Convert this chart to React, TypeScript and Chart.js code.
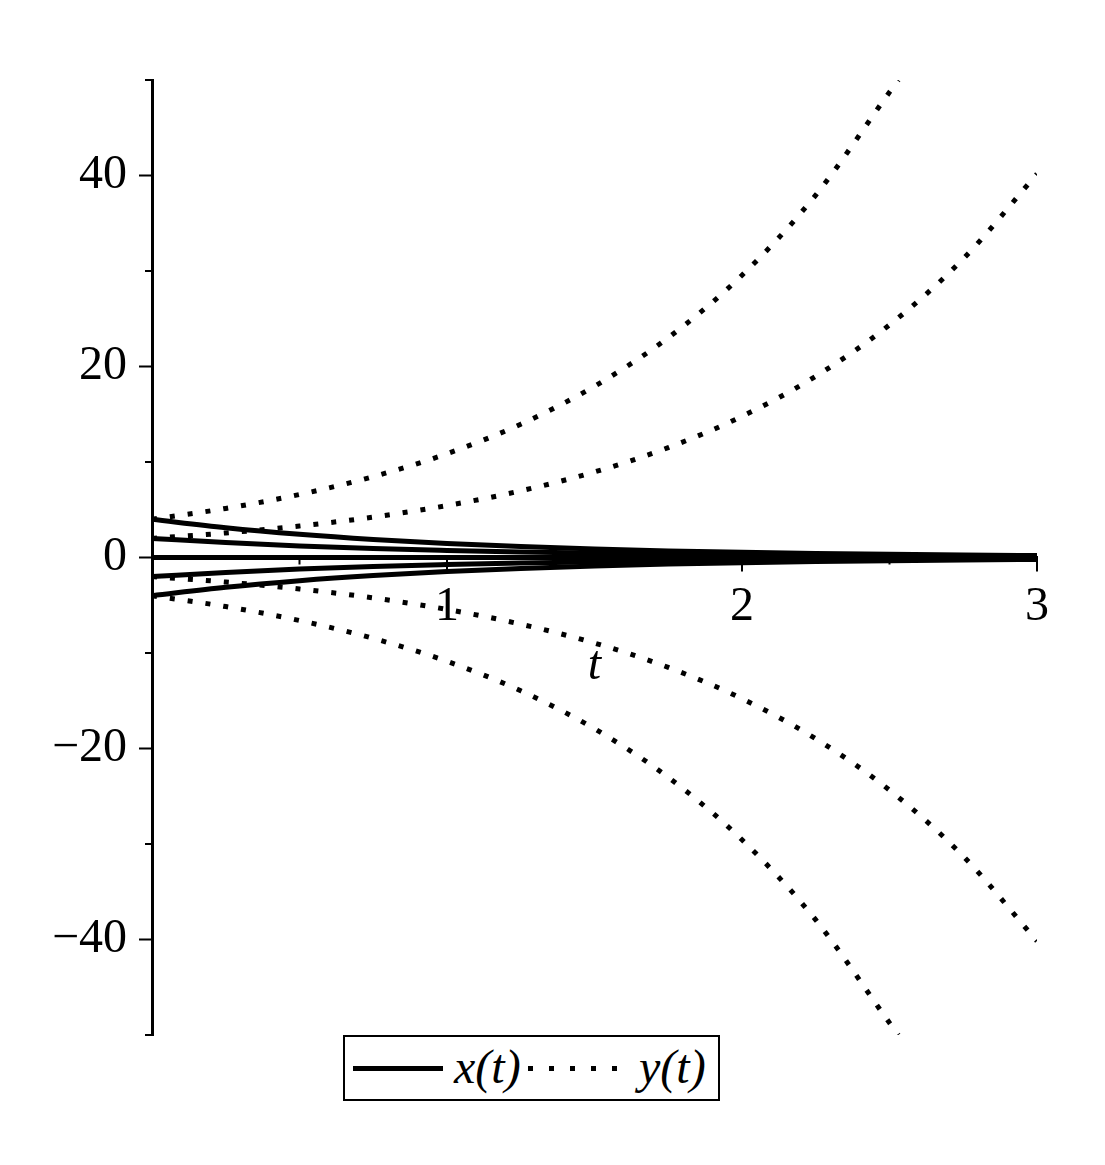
import React, { useEffect, useRef } from 'react';
import { Chart, registerables } from 'chart.js';

Chart.register(...registerables);

// sample times (t) read along the horizontal axis
const tValues = [0, 0.25, 0.5, 0.75, 1, 1.25, 1.5, 1.75, 2, 2.25, 2.5, 2.75, 3];
// the two outer dotted curves leave the view at the top/bottom edge
const tOuter = [0, 0.25, 0.5, 0.75, 1, 1.25, 1.5, 1.75, 2, 2.25, 2.5, 2.53];

// x(t) solid curves
const xStart4 = [4, 3.12, 2.43, 1.89, 1.47, 1.15, 0.89, 0.69, 0.54, 0.42, 0.33, 0.26, 0.2];
const xStart2 = [2, 1.56, 1.21, 0.94, 0.74, 0.57, 0.45, 0.35, 0.27, 0.21, 0.16, 0.13, 0.1];
const xStart0 = [0, 0, 0, 0, 0, 0, 0, 0, 0, 0, 0, 0, 0];
const xStartM2 = [-2, -1.56, -1.21, -0.94, -0.74, -0.57, -0.45, -0.35, -0.27, -0.21, -0.16, -0.13, -0.1];
const xStartM4 = [-4, -3.12, -2.43, -1.89, -1.47, -1.15, -0.89, -0.69, -0.54, -0.42, -0.33, -0.26, -0.2];

// y(t) dotted curves
const yStart4 = [4, 5.14, 6.6, 8.47, 10.87, 13.96, 17.93, 23.02, 29.56, 37.95, 48.73, 50];
const yStart2 = [2, 2.57, 3.3, 4.23, 5.44, 6.98, 8.96, 11.51, 14.78, 18.98, 24.36, 31.28, 40.17];
const yStart0 = [0, 0, 0, 0, 0, 0, 0, 0, 0, 0, 0, 0, 0];
const yStartM2 = [-2, -2.57, -3.3, -4.23, -5.44, -6.98, -8.96, -11.51, -14.78, -18.98, -24.36, -31.28, -40.17];
const yStartM4 = [-4, -5.14, -6.6, -8.47, -10.87, -13.96, -17.93, -23.02, -29.56, -37.95, -48.73, -50];

// ticks
const yMajorTicks = [-40, -20, 0, 20, 40];
const yMinorTicks = [-50, -30, -10, 10, 30, 50];
const xMajorTicks = [1, 2, 3];
const xMinorTicks = [0.5, 1.5, 2.5];

const FONT = "'Liberation Serif', 'Times New Roman', serif";
const FONT_SIZE = 48;

const toPoints = (ts: number[], vs: number[]) => ts.map((t, i) => ({ x: t, y: vs[i] }));

const tickPlugin = {
  id: 'mapleTicks',
  afterDraw(chart: any) {
    const ctx = chart.ctx;
    const xs = chart.scales.x;
    const ys = chart.scales.y;
    const left = chart.chartArea.left;
    const y0 = ys.getPixelForValue(0);
    ctx.save();
    ctx.strokeStyle = '#000';
    ctx.lineWidth = 2;
    ctx.beginPath();
    yMajorTicks.forEach((v) => {
      const p = ys.getPixelForValue(v);
      ctx.moveTo(left - 13, p);
      ctx.lineTo(left, p);
    });
    yMinorTicks.forEach((v) => {
      const p = ys.getPixelForValue(v);
      ctx.moveTo(left - 7, p);
      ctx.lineTo(left, p);
    });
    xMajorTicks.forEach((v) => {
      const p = xs.getPixelForValue(v);
      ctx.moveTo(p, y0);
      ctx.lineTo(p, y0 + 14);
    });
    xMinorTicks.forEach((v) => {
      const p = xs.getPixelForValue(v);
      ctx.moveTo(p, y0);
      ctx.lineTo(p, y0 + 7);
    });
    ctx.stroke();
    ctx.restore();
  },
};

export default function App() {
  const canvasRef = useRef<HTMLCanvasElement | null>(null);

  useEffect(() => {
    if (!canvasRef.current) return;
    const solid = (data: number[]) => ({
      data: toPoints(tValues, data),
      borderColor: '#000',
      borderWidth: 5,
      pointRadius: 0,
      fill: false,
      cubicInterpolationMode: 'monotone' as const,
    });
    const dotted = (ts: number[], data: number[]) => ({
      data: toPoints(ts, data),
      borderColor: '#000',
      borderWidth: 5,
      borderDash: [5, 13],
      borderCapStyle: 'butt' as const,
      pointRadius: 0,
      fill: false,
      cubicInterpolationMode: 'monotone' as const,
    });
    const chart = new Chart(canvasRef.current, {
      type: 'line',
      data: {
        datasets: [
          { label: 'y(t)', ...dotted(tOuter, yStart4) },
          { label: 'y(t)', ...dotted(tValues, yStart2) },
          { label: 'y(t)', ...dotted(tValues, yStart0) },
          { label: 'y(t)', ...dotted(tValues, yStartM2) },
          { label: 'y(t)', ...dotted(tOuter, yStartM4) },
          { label: 'x(t)', ...solid(xStart4) },
          { label: 'x(t)', ...solid(xStart2) },
          { label: 'x(t)', ...solid(xStart0) },
          { label: 'x(t)', ...solid(xStartM2) },
          { label: 'x(t)', ...solid(xStartM4) },
        ] as any,
      },
      options: {
        animation: false,
        responsive: false,
        maintainAspectRatio: false,
        layout: { padding: { left: 0, right: 68, top: 80, bottom: 130 } },
        plugins: { legend: { display: false }, tooltip: { enabled: false } },
        scales: {
          x: {
            type: 'linear',
            position: { y: 0 } as any,
            min: 0,
            max: 3,
            ticks: {
              stepSize: 0.5,
              autoSkip: false,
              maxRotation: 0,
              padding: 7,
              color: '#000',
              font: { family: FONT, size: FONT_SIZE },
              callback: (v: any) => (xMajorTicks.includes(Number(v)) ? String(v) : ''),
            },
            grid: { drawOnChartArea: false, tickColor: 'transparent', tickLength: 14 },
            border: { color: '#000', width: 3 },
            title: {
              display: true,
              text: 't',
              color: '#000',
              font: { family: FONT, size: FONT_SIZE, style: 'italic' },
              padding: { top: -6, bottom: 0 },
            },
          },
          y: {
            type: 'linear',
            min: -50,
            max: 50,
            afterFit: (s: any) => {
              s.width = 152;
            },
            ticks: {
              stepSize: 10,
              autoSkip: false,
              padding: 12,
              color: '#000',
              font: { family: FONT, size: FONT_SIZE },
              callback: (v: any) => {
                const n = Number(v);
                if (!yMajorTicks.includes(n)) return '';
                return n < 0 ? '\u2212' + Math.abs(n) : String(n);
              },
            },
            grid: { drawOnChartArea: false, tickColor: 'transparent', tickLength: 13 },
            border: { color: '#000', width: 3 },
          },
        },
      },
      plugins: [tickPlugin],
    });
    return () => chart.destroy();
  }, []);

  const textStyle: React.CSSProperties = {
    position: 'absolute',
    top: 6,
    fontFamily: FONT,
    fontStyle: 'italic',
    fontSize: FONT_SIZE,
    lineHeight: FONT_SIZE + 'px',
    color: '#000',
    whiteSpace: 'nowrap',
  };

  return (
    <div style={{ position: 'absolute', left: 0, top: 0, width: 1105, height: 1165, background: '#fff' }}>
      <canvas ref={canvasRef} width={1105} height={1165} style={{ display: 'block' }} />
      <div
        style={{
          position: 'absolute',
          left: 343,
          top: 1035,
          width: 377,
          height: 66,
          border: '2px solid #000',
          boxSizing: 'border-box',
          background: '#fff',
        }}
      >
        <div style={{ position: 'absolute', left: 8, top: 29, width: 90, height: 5, background: '#000' }} />
        <span style={{ ...textStyle, left: 109 }}>x(t)</span>
        <div
          style={{
            position: 'absolute',
            left: 183,
            top: 29,
            width: 90,
            height: 5,
            background: 'repeating-linear-gradient(to right, #000 0px, #000 5px, transparent 5px, transparent 21px)',
          }}
        />
        <span style={{ ...textStyle, left: 294 }}>y(t)</span>
      </div>
    </div>
  );
}
